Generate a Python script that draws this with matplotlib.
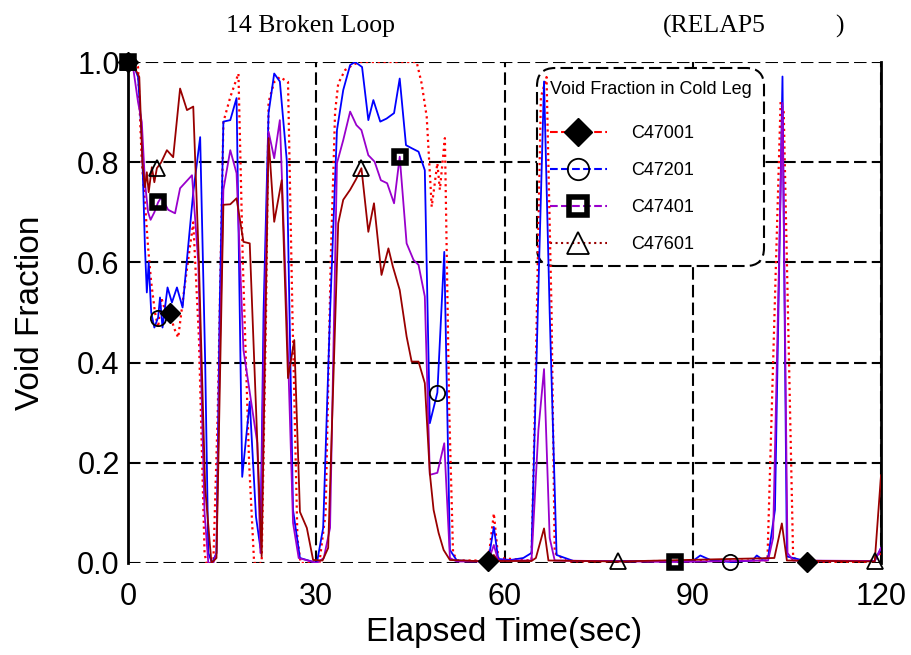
import matplotlib
matplotlib.use("Agg")
import matplotlib.pyplot as plt
import numpy as np
from matplotlib.lines import Line2D

plt.rcParams['font.family'] = ['Liberation Sans', 'DejaVu Sans']

# C47001 - red dotted, diamond markers
t1 = [0, 1.0, 1.6, 2.2, 2.7, 3.2, 3.7, 4.3, 4.8, 5.3, 6.0, 6.7, 7.3, 8.0, 9.0, 10.4, 11.3, 12.2, 12.5,
      13.6, 14.3, 15.2, 16.3, 17.6, 18.3, 19.3, 20.1, 21.3, 22.0, 22.4, 23.3, 24.2, 25.5, 26.2, 27.0,
      27.5, 30.5, 31.5, 32.3, 33.0, 33.5, 34.6, 35.9, 37.0, 46.0, 46.8, 47.6, 48.4, 49.3, 49.7, 50.5,
      51.2, 51.8, 52.5, 56.0, 57.4, 58.3, 59.0, 64.3, 65.0, 65.8, 66.7, 67.5, 68.0, 70.0, 101.9, 104.0,
      104.5, 106.0, 108.2, 118.0, 119.2, 120.0]
v1 = [1.0, 1.0, 0.99, 0.80, 0.72, 0.63, 0.56, 0.50, 0.47, 0.53, 0.50, 0.50, 0.47, 0.45, 0.55, 0.68,
      0.45, 0.02, 0.0, 0.0, 0.30, 0.88, 0.93, 0.977, 0.60, 0.20, 0.0, 0.0, 0.50, 0.92, 0.96, 0.97, 0.96,
      0.50, 0.05, 0.0, 0.0, 0.10, 0.60, 0.90, 0.957, 0.984, 0.995, 1.0, 1.0, 0.957, 0.891, 0.711, 0.798,
      0.745, 0.848, 0.30, 0.02, 0.005, 0.005, 0.003, 0.099, 0.01, 0.005, 0.40, 0.93, 0.97, 0.50, 0.02,
      0.003, 0.005, 0.92, 0.90, 0.01, 0.002, 0.002, 0.01, 0.02]
m1 = [0, 6.7, 57.4, 108.2]

# C47201 - blue, circle markers
t2 = [0, 1.0, 1.6, 2.2, 2.7, 3.0, 3.3, 3.7, 4.2, 4.8, 5.1, 5.5, 6.3, 7.0, 7.8, 8.7, 9.5, 10.4, 11.5,
      12.3, 12.8, 13.4, 14.1, 14.6, 15.2, 16.3, 17.3, 18.2, 19.4, 20.4, 21.1, 21.6, 22.4, 23.3, 24.2,
      25.3, 26.3, 27.4, 30.1, 31.1, 32.2, 33.3, 34.3, 35.4, 36.2, 37.3, 38.3, 39.1, 40.2, 41.2, 42.4,
      43.3, 44.3, 45.2, 46.3, 47.3, 48.1, 49.3, 50.4, 51.3, 52.4, 57.4, 58.3, 59.0, 61.0, 63.0, 64.3,
      65.3, 66.3, 67.2, 68.3, 71.0, 90.0, 91.2, 93.0, 96.0, 99.5, 100.2, 101.0, 102.0, 103.1, 104.3,
      105.0, 106.0, 108.0, 119.0, 120.0]
v2 = [1.0, 0.99, 0.97, 0.85, 0.63, 0.54, 0.60, 0.50, 0.47, 0.49, 0.53, 0.47, 0.55, 0.52, 0.55, 0.51,
      0.62, 0.74, 0.85, 0.40, 0.02, 0.0, 0.02, 0.50, 0.881, 0.884, 0.928, 0.172, 0.322, 0.092, 0.03,
      0.50, 0.898, 0.977, 0.961, 0.804, 0.106, 0.01, 0.0, 0.07, 0.50, 0.864, 0.944, 0.994, 1.0, 0.99,
      0.884, 0.924, 0.881, 0.887, 0.898, 0.967, 0.834, 0.828, 0.821, 0.784, 0.279, 0.34, 0.621, 0.026,
      0.005, 0.003, 0.072, 0.008, 0.006, 0.01, 0.02, 0.50, 0.961, 0.50, 0.016, 0.004, 0.004, 0.015,
      0.005, 0.002, 0.005, 0.015, 0.008, 0.01, 0.106, 0.971, 0.013, 0.01, 0.004, 0.004, 0.03]
m2 = [0, 4.8, 49.3, 96.0]

# C47401 - purple, square markers
t3 = [0, 0.8, 1.6, 2.2, 2.7, 3.2, 3.6, 4.2, 4.8, 5.3, 6.4, 7.5, 8.3, 10.2, 11.2, 12.2, 12.8, 13.6,
      14.1, 14.6, 15.2, 16.3, 17.3, 18.4, 20.6, 21.1, 21.6, 22.4, 23.3, 24.2, 25.3, 26.3, 27.2, 30.1,
      31.2, 32.2, 33.3, 34.3, 35.4, 36.4, 37.2, 38.3, 39.3, 40.3, 41.3, 42.4, 43.3, 44.4, 45.5, 46.3,
      47.3, 48.1, 49.3, 50.4, 51.3, 52.4, 57.4, 58.3, 59.0, 64.3, 65.4, 66.3, 67.2, 68.0, 87.2, 102.0,
      102.8, 104.3, 105.1, 106.0, 119.0, 120.0]
v3 = [1.0, 0.99, 0.92, 0.88, 0.76, 0.70, 0.685, 0.70, 0.72, 0.73, 0.705, 0.698, 0.748, 0.774, 0.60,
      0.10, 0.0, 0.0, 0.02, 0.40, 0.745, 0.824, 0.778, 0.425, 0.24, 0.02, 0.40, 0.861, 0.808, 0.884,
      0.50, 0.08, 0.01, 0.0, 0.01, 0.07, 0.798, 0.844, 0.901, 0.874, 0.864, 0.814, 0.801, 0.764, 0.758,
      0.718, 0.811, 0.638, 0.605, 0.595, 0.532, 0.176, 0.18, 0.239, 0.01, 0.003, 0.003, 0.036, 0.005,
      0.005, 0.265, 0.387, 0.05, 0.005, 0.002, 0.005, 0.05, 0.918, 0.02, 0.005, 0.004, 0.03]
m3 = [0, 4.8, 43.3, 87.2]

# C47601 - dark red, triangle markers
t4 = [0, 1.0, 1.8, 2.3, 2.7, 3.0, 3.3, 3.8, 4.2, 4.6, 5.3, 6.2, 7.2, 8.3, 9.4, 10.4, 11.3, 12.3, 13.3,
      14.1, 15.2, 16.3, 17.3, 18.4, 19.4, 21.3, 22.4, 23.3, 24.5, 25.5, 26.5, 27.4, 28.5, 29.5, 31.0,
      31.9, 33.5, 34.3, 35.4, 36.3, 37.2, 38.3, 39.2, 40.4, 41.5, 42.2, 43.3, 44.4, 45.2, 46.3, 47.3,
      48.1, 48.7, 49.5, 50.3, 51.3, 57.4, 58.3, 59.0, 64.3, 65.0, 66.3, 67.0, 78.1, 103.0, 104.2, 105.0,
      119.0, 120.0]
v4 = [1.0, 0.99, 0.97, 0.80, 0.75, 0.78, 0.74, 0.79, 0.76, 0.788, 0.80, 0.824, 0.81, 0.947, 0.904,
      0.911, 0.60, 0.15, 0.0, 0.01, 0.715, 0.716, 0.728, 0.641, 0.638, 0.013, 0.848, 0.681, 0.764, 0.369,
      0.445, 0.102, 0.07, 0.006, 0.005, 0.03, 0.678, 0.725, 0.745, 0.765, 0.788, 0.661, 0.718, 0.575,
      0.628, 0.592, 0.545, 0.452, 0.402, 0.402, 0.359, 0.179, 0.106, 0.06, 0.026, 0.006, 0.003, 0.016,
      0.004, 0.004, 0.01, 0.069, 0.005, 0.003, 0.01, 0.079, 0.005, 0.003, 0.175]
m4 = [0, 4.6, 37.2, 78.1, 119.0]

labels = ['C47001', 'C47201', 'C47401', 'C47601']
colors = ['#ff0000', '#0000ff', '#9900cc', '#990000']

fig = plt.figure(figsize=(9.11, 6.55), dpi=100)
ax = fig.add_axes([128 / 911, 1 - 563 / 655, 753 / 911, 501 / 655])

series = [(t1, v1, m1), (t2, v2, m2), (t3, v3, m3), (t4, v4, m4)]
line_styles = [':', '-', '-', '-']
widths = [1.6, 1.3, 1.3, 1.3]
for (t, v, m), c, ls, lw in zip(series, colors, line_styles, widths):
    ax.plot(t, v, color=c, ls=ls, lw=lw, zorder=3)

marker_kw = [dict(marker='D', ms=10, mfc='black', mec='black'),
             dict(marker='o', ms=11, mfc='none', mec='black', mew=1.3),
             dict(marker='s', ms=9, mfc='none', mec='black', mew=4),
             dict(marker='^', ms=11, mfc='none', mec='black', mew=1.3)]
for (t, v, m), kw in zip(series, marker_kw):
    t = np.array(t)
    idx = np.flatnonzero(np.isin(t, m))
    ax.plot(t, v, ls='none', markevery=list(idx), zorder=4, clip_on=False, **kw)

ax.set_xlim(0, 120)
ax.set_ylim(0, 1)
ax.set_xticks([0, 30, 60, 90, 120])
ax.set_yticks([0, 0.2, 0.4, 0.6, 0.8, 1.0])
ax.set_yticklabels(['0.0', '0.2', '0.4', '0.6', '0.8', '1.0'])
ax.tick_params(length=0, labelsize=22)
ax.tick_params(axis='x', pad=14)
ax.tick_params(axis='y', pad=6)
ax.grid(True, color='black', ls=(0, (6, 2.5)), lw=1.5)
ax.set_axisbelow(True)
for s in ['top', 'bottom']:
    ax.spines[s].set_visible(False)
for s in ['left', 'right']:
    ax.spines[s].set_linewidth(2)

ax.set_xlabel('Elapsed Time(sec)', fontsize=24, labelpad=3)
ax.set_ylabel('Void Fraction', fontsize=24, labelpad=22)

handles = [Line2D([], [], color=c, ls=ls, lw=1.5, **kw)
           for c, ls, kw in zip(colors, ['--', '--', '--', ':'], marker_kw)]
leg = ax.legend(handles, labels, title='Void Fraction in Cold Leg', loc='upper left',
                bbox_to_anchor=(0.543, 0.988), borderaxespad=0, fontsize=13, title_fontsize=13,
                handlelength=3.2, handletextpad=1.3, labelspacing=1.1, markerscale=1.4,
                borderpad=0.7, alignment='left', fancybox=True, framealpha=1, edgecolor='black')
leg.set_zorder(2)
leg._legend_box.sep = 20
frame = leg.get_frame()
frame.set_boxstyle('round', pad=0, rounding_size=1.0)
frame.set_linestyle((0, (6, 2.5)))
frame.set_linewidth(1.5)

fig.text(226 / 911, 1 - 26 / 655, '14 Broken Loop', family='Liberation Serif', fontsize=18.5,
         va='center', ha='left')
fig.text(663 / 911, 1 - 26 / 655, '(RELAP5', family='Liberation Serif', fontsize=18.5,
         va='center', ha='left')
fig.text(835 / 911, 1 - 26 / 655, ')', family='Liberation Serif', fontsize=18.5,
         va='center', ha='left')

plt.savefig('out.png', dpi=100)
